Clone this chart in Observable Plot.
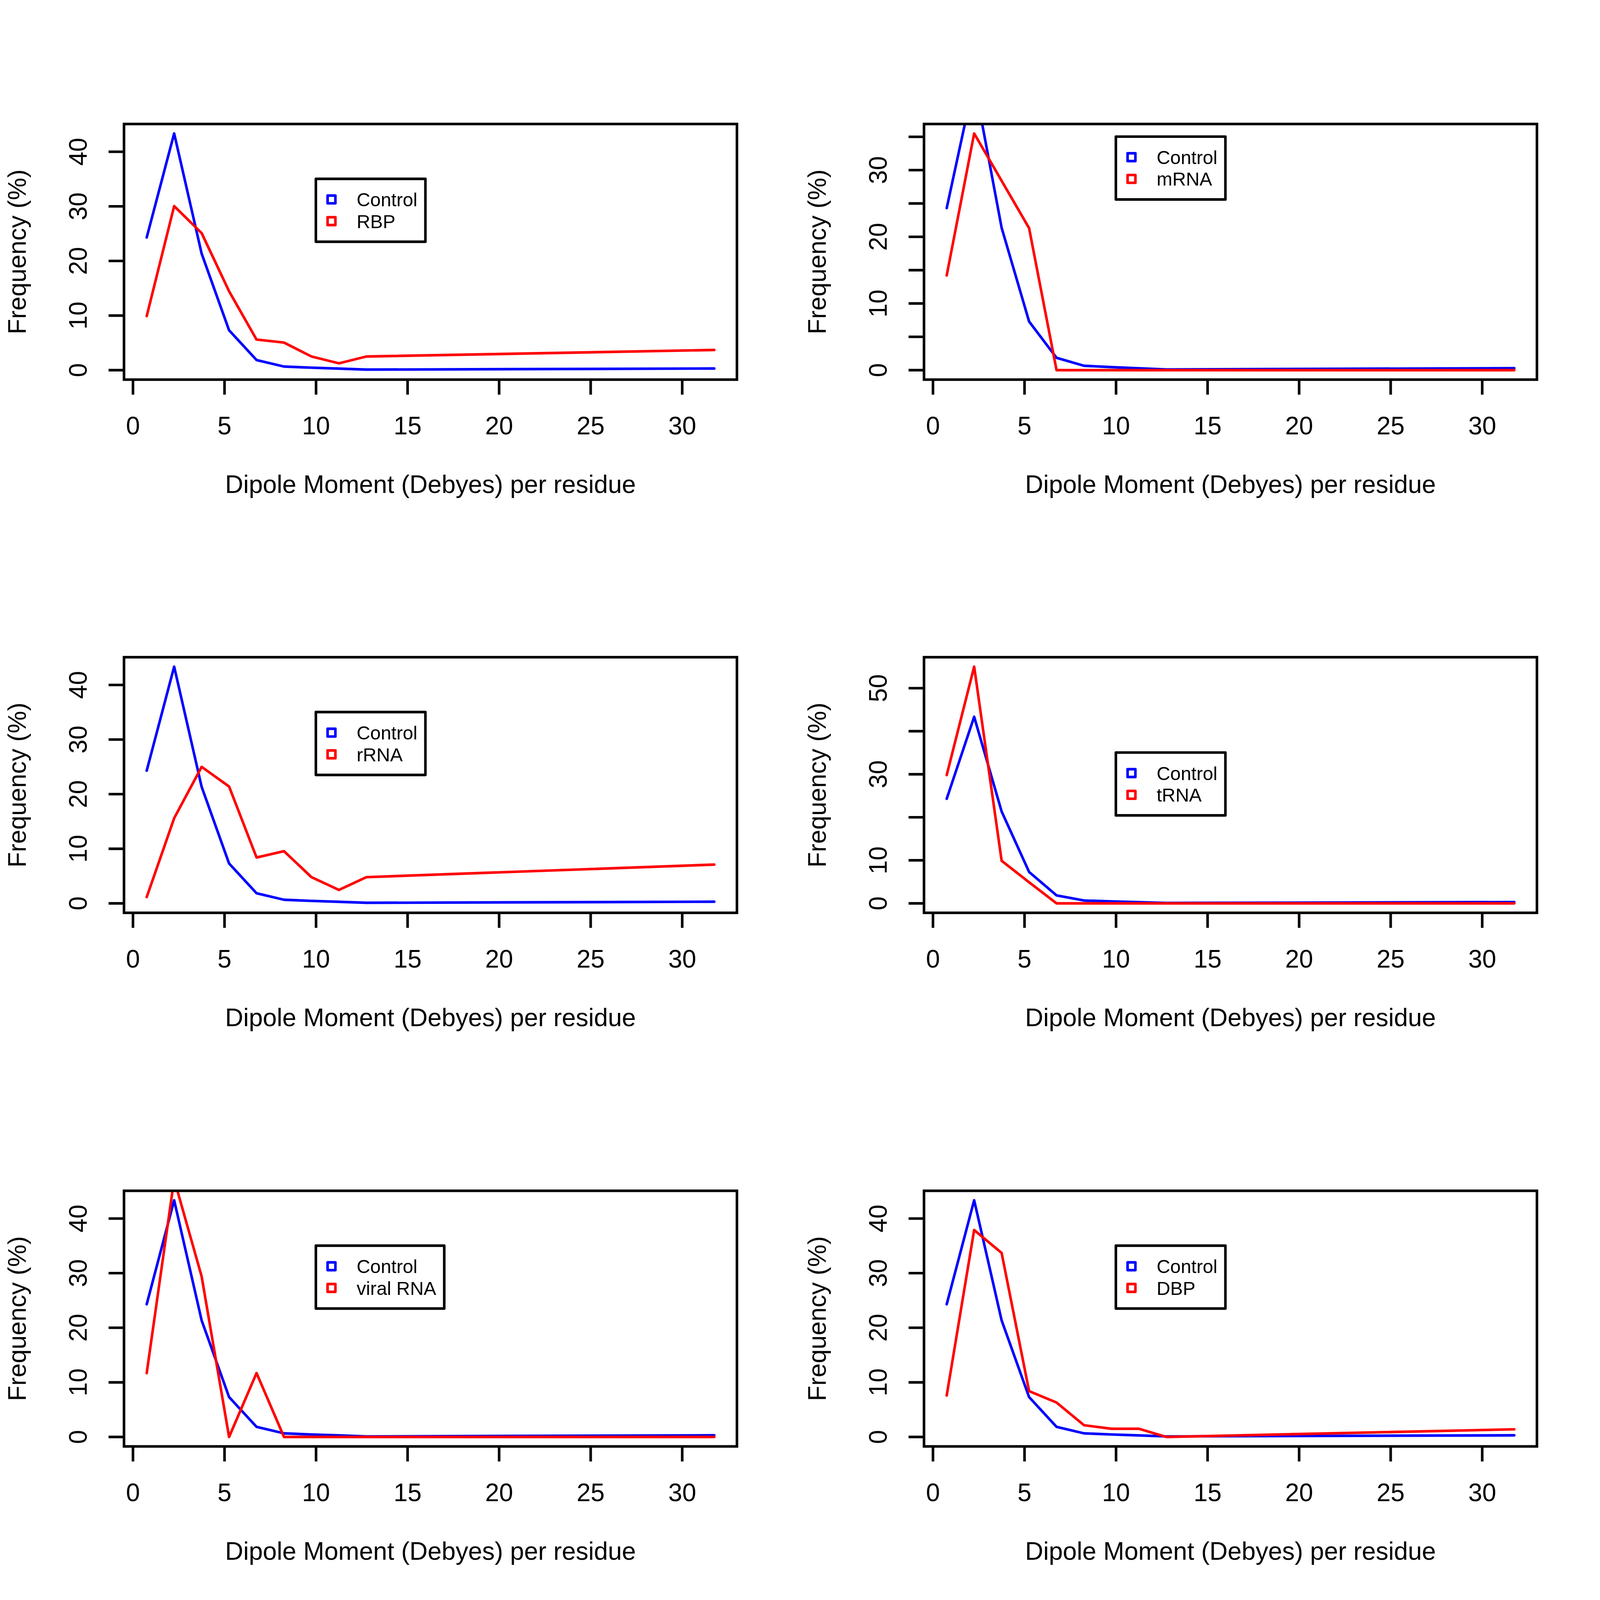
<!DOCTYPE html>
<html>
<head>
<meta charset="utf-8">
<script src="https://cdn.jsdelivr.net/npm/d3@7"></script>
<script src="https://cdn.jsdelivr.net/npm/@observablehq/plot@0.6"></script>
<style>
  html, body { margin: 0; padding: 0; background: white; overflow: hidden; }
  #grid { display: grid; grid-template-columns: 1fr 1fr; grid-template-rows: 1fr 1fr 1fr;
          width: 100vw; height: 100vh; background: white; }
  #grid svg { display: block; width: 100% !important; height: 100% !important; max-width: none !important; }
</style>
</head>
<body>
<div id="grid"></div>
<script>
// ---- data ----
const dipole = [0.75, 2.25, 3.75, 5.25, 6.75, 8.25, 9.75, 11.25, 12.75, 31.75];
const control = [24.3, 43.35, 21.35, 7.3, 1.85, 0.66, 0.45, 0.28, 0.1, 0.3];
const rbp   = [9.9, 30.05, 25.1, 14.45, 5.6, 5.05, 2.5, 1.25, 2.5, 3.7];
const mrna  = [14.2, 35.5, 28.4, 21.3, 0, 0, 0, 0, 0, 0];
const rrna  = [1.15, 15.6, 25.0, 21.4, 8.4, 9.55, 4.8, 2.45, 4.8, 7.1];
const trna  = [29.8, 55.0, 9.9, 4.9, 0, 0, 0, 0, 0, 0];
const viral = [11.7, 47.2, 29.4, 0, 11.7, 0, 0, 0, 0, 0];
const dbp   = [7.6, 37.9, 33.7, 8.4, 6.3, 2.15, 1.5, 1.5, 0, 1.4];

const panelNames = ["RBP", "mRNA", "rRNA", "tRNA", "viral RNA", "DBP"];
const panelSeries = [rbp, mrna, rrna, trna, viral, dbp];
const panelYMax = [43.35, 35.5, 43.35, 55.0, 43.35, 43.35];
const panelYTicks = [
  [0, 10, 20, 30, 40],
  [0, 5, 10, 15, 20, 25, 30, 35],
  [0, 10, 20, 30, 40],
  [0, 10, 20, 30, 40, 50],
  [0, 10, 20, 30, 40],
  [0, 10, 20, 30, 40]
];
const panelYLabels = [
  [0, 10, 20, 30, 40],
  [0, 10, 20, 30],
  [0, 10, 20, 30, 40],
  [0, 10, 30, 50],
  [0, 10, 20, 30, 40],
  [0, 10, 20, 30, 40]
];
const xTicks = [0, 5, 10, 15, 20, 25, 30];
const xTitle = "Dipole Moment (Debyes) per residue";
const yTitle = "Frequency (%)";
const legendAnchor = {x: 10, y: 35};

// ---- helpers ----
const FONT = "'Liberation Sans', Arial, Helvetica, sans-serif";
const LW = 6.8;
const canvas = document.createElement("canvas");
const ctx = canvas.getContext("2d");
function measure(txt, size) {
  ctx.font = `${size}px 'Liberation Sans', Arial, sans-serif`;
  const w = ctx.measureText(txt).width;
  return w > 0 ? w : txt.length * size * 0.5;
}

function legendMark(labels, colors) {
  return (index, scales, values, dims, context) => {
    const fs = 49.5;
    const x0 = scales.x(legendAnchor.x), y0 = scales.y(legendAnchor.y);
    const tw = Math.max(...labels.map(l => measure(l, fs)));
    const w = 107 + tw + 21, h = 165;
    const g = d3.create("svg:g");
    g.append("rect").attr("x", x0).attr("y", y0).attr("width", w).attr("height", h)
      .attr("fill", "white").attr("stroke", "black").attr("stroke-width", LW)
      .attr("stroke-linejoin", "round");
    labels.forEach((lab, i) => {
      const cy = y0 + 54 + i * 57;
      g.append("rect").attr("x", x0 + 41 - 10.25).attr("y", cy - 10.25)
        .attr("width", 20.5).attr("height", 20.5)
        .attr("fill", "none").attr("stroke", colors[i]).attr("stroke-width", 6.8)
        .attr("stroke-linejoin", "round");
      g.append("text").attr("x", x0 + 107).attr("y", cy).attr("dy", "0.36em")
        .attr("text-anchor", "start")
        .attr("font-size", fs).attr("font-family", FONT).attr("fill", "black")
        .text(lab);
    });
    return g.node();
  };
}

const grid = document.getElementById("grid");
panelNames.forEach((name, p) => {
  const M = panelYMax[p];
  const ctrlData = dipole.map((d, i) => ({x: d, y: control[i]}));
  const redData = dipole.map((d, i) => ({x: d, y: panelSeries[p][i]}));
  const xr = d3.extent(dipole);
  const xpad = (xr[1] - xr[0]) * 0.04;
  const chart = Plot.plot({
    width: 2100,
    height: 1400,
    marginLeft: 325,
    marginRight: 166,
    marginTop: 325,
    marginBottom: 404,
    x: {domain: [xr[0] - xpad, xr[1] + xpad]},
    y: {domain: [-0.04 * M, 1.04 * M]},
    style: {fontFamily: FONT, fontSize: "66px", background: "white", color: "black", overflow: "visible"},
    marks: [
      Plot.line(ctrlData, {x: "x", y: "y", stroke: "#0000FF", strokeWidth: LW, clip: true}),
      Plot.line(redData, {x: "x", y: "y", stroke: "#FF0000", strokeWidth: LW, clip: true}),
      Plot.axisX({ticks: xTicks, tickSize: 40, tickPadding: 57, strokeWidth: LW, fontSize: 66,
                  tickFormat: d => String(d), label: null, fill: "black"}),
      Plot.axisY({ticks: panelYTicks[p], tickSize: 40, strokeWidth: LW, tickFormat: () => "", label: null}),
      Plot.text(panelYLabels[p], {y: d => d, text: d => String(d), frameAnchor: "left", dx: -119,
                  rotate: -90, textAnchor: "middle", lineAnchor: "middle", fontSize: 66, fill: "black"}),
      Plot.text([xTitle], {text: d => d, frameAnchor: "bottom", dy: 276, lineAnchor: "middle",
                  textAnchor: "middle", fontSize: 66, fill: "black"}),
      Plot.text([yTitle], {text: d => d, frameAnchor: "left", dx: -279, rotate: -90, lineAnchor: "middle",
                  textAnchor: "middle", fontSize: 66, fill: "black"}),
      Plot.frame({stroke: "black", strokeWidth: LW}),
      legendMark(["Control", name], ["#0000FF", "#FF0000"])
    ]
  });
  grid.appendChild(chart);
});
</script>
</body>
</html>
